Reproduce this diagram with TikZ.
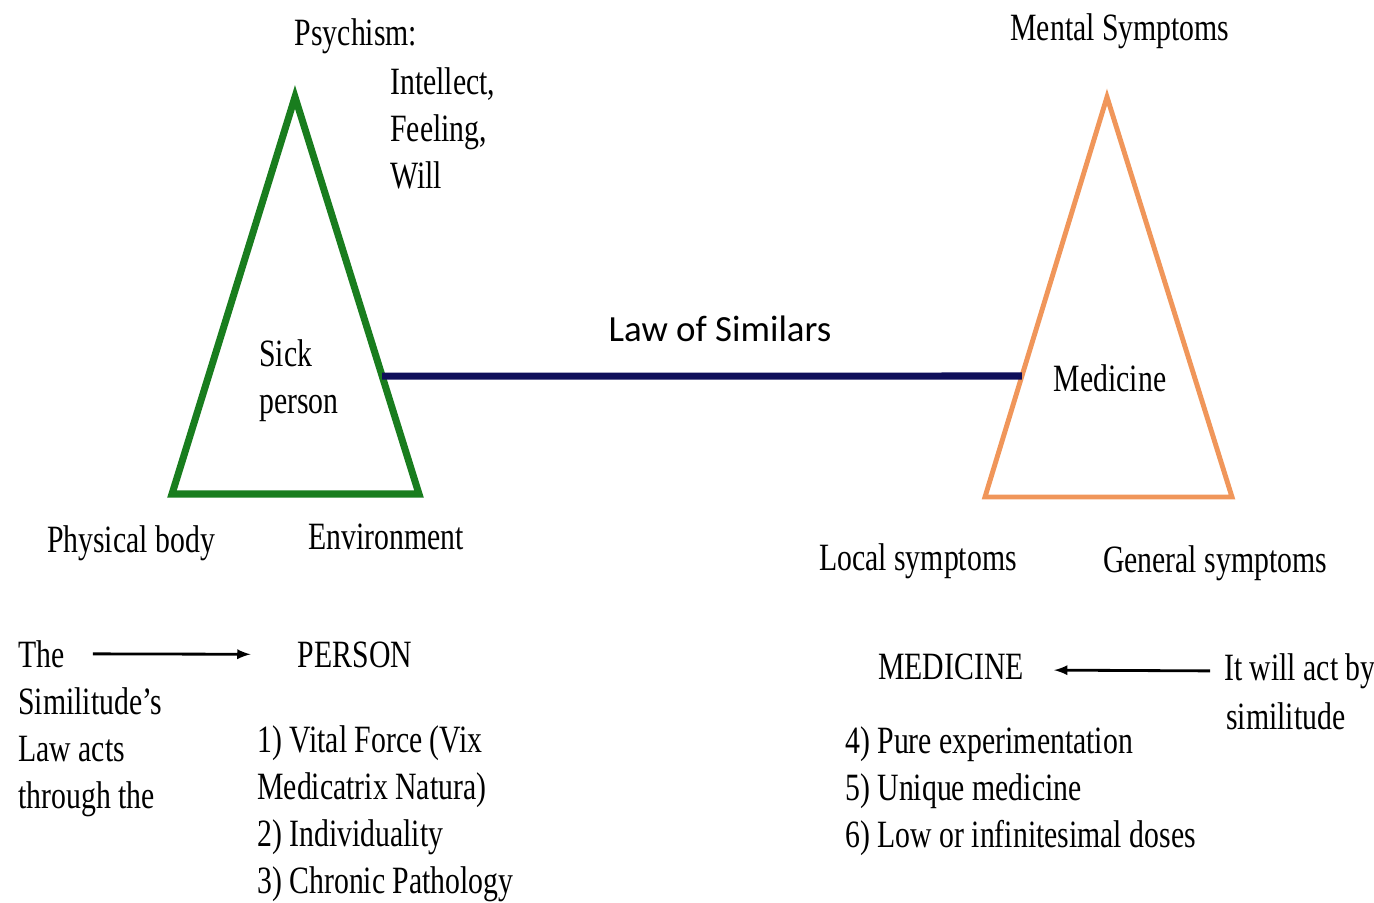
\documentclass[tikz,border=0pt]{standalone}
\usepackage{fontspec}
\setmainfont{Liberation Serif}[FakeStretch=0.77]
\newfontfamily\lawfont{Carlito}
\usetikzlibrary{calc}

\definecolor{sickgreen}{RGB}{25,125,30}
\definecolor{medorange}{RGB}{240,150,90}
\definecolor{lawnavy}{RGB}{15,15,90}

\begin{document}
\begin{tikzpicture}[x=0.02cm,y=-0.02cm]
        \tikzstyle{note}=[inner sep=0pt, font=\fontsize{22}{26.7}\selectfont]
        % multi-line blocks sit on the baseline of their last line
        \tikzstyle{block}=[note, align=left, anchor=base west]
        \tikzstyle{sick triangle}=[draw=sickgreen, line width=4pt]
        \tikzstyle{medicine triangle}=[draw=medorange, line width=2.8pt]
        \tikzstyle{link}=[draw=lawnavy, line width=4pt]
        \tikzstyle{pointer}=[draw=black, line width=1.6pt, -latex]

        \useasboundingbox (0,0) rectangle (1374,903);

        % Draw the sick person triangle
        \coordinate (S-top) at (295,97);
        \coordinate (S-left) at (172,494);
        \coordinate (S-right) at (419,494);
        \draw[sick triangle] (S-top) -- (S-left) -- (S-right) -- cycle;

        % Draw the medicine triangle
        \coordinate (M-top) at (1107,97);
        \coordinate (M-left) at (985,497);
        \coordinate (M-right) at (1232,497);
        \draw[medicine triangle] (M-top) -- (M-left) -- (M-right) -- cycle;

        % Join both triangles by the law
        \coordinate (S-edge) at ($(S-top)!0.703!(S-right)$);
        \coordinate (M-edge) at ($(M-top)!0.6975!(M-left)$);
        \draw[link] (S-edge) -- (M-edge);
        \node[inner sep=0pt, anchor=base, font=\lawfont\fontsize{21}{25}\selectfont]
            (law) at (720,341) {Law of Similars};

        % Annotate the sick person
        \node[note, anchor=base] (psychism) at (356,45) {Psychism:};
        \node[block] (faculties) at (390,188) {Intellect,\\Feeling,\\Will};
        \node[block] (sick) at (259,413) {Sick\\person};
        \node[note, anchor=base] (body) at (131,552) {Physical body};
        \node[note, anchor=base] (environment) at (386,549) {Environment};

        % Annotate the medicine
        \node[note, anchor=base] (mental) at (1120,40) {Mental Symptoms};
        \node[note, anchor=base] (medicine) at (1110,391) {Medicine};
        \node[note, anchor=base] (local) at (918,570) {Local symptoms};
        \node[note, anchor=base] (general) at (1215,572) {General symptoms};

        % The person side
        \node[note, anchor=base west] (the) at (18,667) {The};
        \node[block] (acts) at (18,808) {Similitude's\\Law acts\\through the};
        \node[note, anchor=base] (person) at (355,667) {PERSON};
        \node[block] (person list) at (257,893)
            {1) Vital Force (Vix\\Medicatrix Natura)\\2) Individuality\\3) Chronic Pathology};
        \draw[pointer, shorten <=0.56cm, shorten >=0.94cm] (the.east) -- (person.west);

        % The medicine side
        \node[note, anchor=base] (medicine2) at (951,679) {MEDICINE};
        \node[note, anchor=base west] (actby) at (1224,680) {It will act by};
        \node[note, anchor=base west] (simil) at (1226,729) {similitude};
        \node[block] (medicine list) at (845,847)
            {4) Pure experimentation\\5) Unique medicine\\6) Low or infinitesimal doses};
        \draw[pointer, shorten <=0.28cm, shorten >=0.6cm]
            ([yshift=0.1cm]actby.mid west) -- ([yshift=0.1cm]medicine2.mid east);
\end{tikzpicture}
\end{document}
